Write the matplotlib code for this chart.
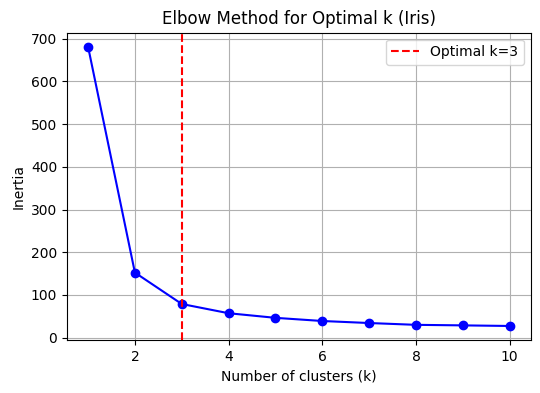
import numpy as np
import matplotlib
matplotlib.use('Agg')
import matplotlib.pyplot as plt

# Elbow data (Iris, KMeans inertia)
k_values = [1, 2, 3, 4, 5, 6, 7, 8, 9, 10]
inertia = [681.37, 152.35, 78.85, 57.23, 46.45, 39.04, 34.30, 30.06, 28.80, 27.40]
optimal_k = 3

fig = plt.figure(figsize=(5.4, 3.93), dpi=100)
ax = fig.add_axes([0.124, 0.135, 0.859, 0.782])

ax.plot(k_values, inertia, 'bo-')
ax.axvline(x=optimal_k, color='r', linestyle='--', label='Optimal k={}'.format(optimal_k))
ax.set_title('Elbow Method for Optimal k (Iris)')
ax.set_xlabel('Number of clusters (k)')
ax.set_ylabel('Inertia')
ax.legend()
ax.grid(True)

fig.savefig('out.png', dpi=100)
